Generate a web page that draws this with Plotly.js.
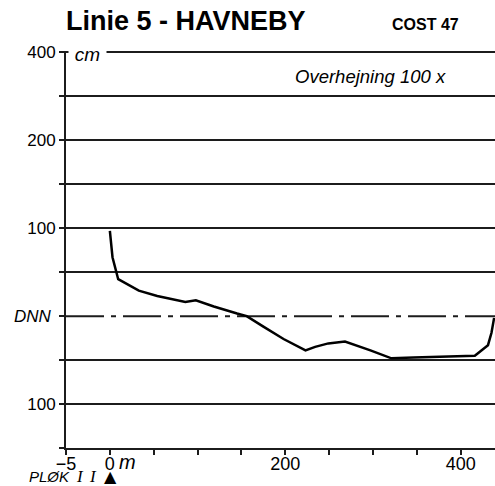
<!DOCTYPE html>
<html>
<head>
<meta charset="utf-8">
<script src="https://cdn.plot.ly/plotly-3.0.1.min.js"></script>
<style>
  html, body { margin: 0; padding: 0; background: #fff; }
  #chart { width: 495px; height: 486px; }
</style>
</head>
<body>
<div id="chart"></div>
<script>
// Beach profile, Linie 5 - Havneby: distance from the peg (m) vs. level relative to DNN (cm)
const distance = [0, 3, 9.5, 33, 54, 86, 98, 118.5, 145, 156, 175, 198, 223, 234, 249, 268, 297, 321, 346, 380, 416, 431, 435, 438];
const level    = [97, 67, 42, 29, 23, 16, 18, 11, 3, 0, -12, -26, -39, -35, -31, -29, -39, -48, -47, -46, -45, -33, -19, -2];

// Axis ticks and their printed labels; solid rules every 50 cm except at DNN
const xTickVals = [-50, 0, 50, 100, 150, 200, 250, 300, 350, 400];
const xTickText = ['\u22125', '0', '', '', '', '200', '', '', '', '400'];
const yTickVals = [-150, -100, -50, 50, 100, 150, 200, 250, 300];
const yTickText = ['', '100', '', '', '100', '', '200', '', '400'];
const dnnLevel  = 0;
const dnnLabel  = 'DNN';

const ink = '#1c1c1c';
const font = 'Liberation Sans, Arial, Helvetica, sans-serif';
const serif = 'Liberation Serif, DejaVu Serif, serif';

const trace = {
  x: distance,
  y: level,
  type: 'scatter',
  mode: 'lines',
  line: { color: '#000', width: 2.5 },
  hoverinfo: 'skip',
  showlegend: false
};

const layout = {
  width: 495,
  height: 486,
  margin: { l: 66, r: 0, t: 51, b: 38 },
  paper_bgcolor: '#fff',
  plot_bgcolor: '#fff',
  showlegend: false,
  font: { family: font, color: '#000' },
  xaxis: {
    range: [-50, 439],
    tickmode: 'array',
    tickvals: xTickVals,
    ticktext: xTickText,
    ticks: 'outside',
    ticklen: 5,
    tickwidth: 2,
    tickcolor: ink,
    ticklabelstandoff: -7,
    showline: true,
    mirror: false,
    linecolor: ink,
    linewidth: 2,
    layer: 'above traces',
    showgrid: false,
    zeroline: false,
    tickfont: { family: font, size: 18, color: '#000' },
    fixedrange: true
  },
  yaxis: {
    range: [-150, 301.6],
    tickmode: 'array',
    tickvals: yTickVals,
    ticktext: yTickText,
    ticks: 'outside',
    ticklen: 5,
    tickwidth: 2,
    tickcolor: ink,
    // the DNN tick comes from the minor ticks (the only 50 cm step without a major tick)
    minor: {
      tick0: 0,
      dtick: 50,
      ticks: 'outside',
      ticklen: 5,
      tickwidth: 2,
      tickcolor: ink,
      showgrid: false
    },
    showline: true,
    mirror: false,
    linecolor: ink,
    linewidth: 2,
    layer: 'above traces',
    showgrid: true,
    gridcolor: ink,
    gridwidth: 2,
    zeroline: false,
    tickfont: { family: font, size: 17, color: '#000' },
    fixedrange: true
  },
  shapes: [
    // dash-dot datum line at DNN
    {
      type: 'line',
      xref: 'paper', x0: 0, x1: 1,
      yref: 'y', y0: dnnLevel, y1: dnnLevel,
      line: { color: ink, width: 2, dash: '38px,7px,5px,7px' },
      layer: 'below'
    }
  ],
  annotations: [
    {
      text: '<i>' + dnnLabel + '</i>',
      xref: 'paper', yref: 'y', x: -0.028, y: dnnLevel,
      xanchor: 'right', yanchor: 'middle', showarrow: false,
      font: { family: font, size: 17, color: '#000' }
    },
    {
      text: '<b>Linie 5 - HAVNEBY</b>',
      xref: 'paper', yref: 'paper', x: -0.004, y: 1.076,
      xanchor: 'left', yanchor: 'middle', showarrow: false,
      font: { family: font, size: 27, color: '#000' }
    },
    {
      text: '<b>COST 47</b>',
      xref: 'paper', yref: 'paper', x: 0.755, y: 1.068,
      xanchor: 'left', yanchor: 'middle', showarrow: false,
      font: { family: font, size: 16, color: '#000' }
    },
    {
      text: '<i>cm</i>',
      xref: 'paper', yref: 'paper', x: 0.005, y: 0.992,
      xanchor: 'left', yanchor: 'middle', showarrow: false,
      width: 37, align: 'center', bgcolor: '#fff', borderpad: 0,
      font: { family: font, size: 19, color: '#000' }
    },
    {
      text: '<i>Overhejning 100 x</i>',
      xref: 'paper', yref: 'paper', x: 0.53, y: 0.937,
      xanchor: 'left', yanchor: 'middle', showarrow: false,
      font: { family: font, size: 18.5, color: '#000' }
    },
    {
      text: '<i>m</i>',
      xref: 'paper', yref: 'paper', x: 0.119, y: -0.036,
      xanchor: 'left', yanchor: 'middle', showarrow: false,
      font: { family: font, size: 20, color: '#000' }
    },
    // peg marker below the axis: "PLØK II" and a triangle
    {
      text: '<i>PLØK</i>',
      xref: 'paper', yref: 'paper', x: -0.091, y: -0.073,
      xanchor: 'left', yanchor: 'middle', showarrow: false,
      font: { family: font, size: 15, color: '#000' }
    },
    {
      text: '<i>I</i>',
      xref: 'paper', yref: 'paper', x: 0.018, y: -0.073,
      xanchor: 'left', yanchor: 'middle', showarrow: false,
      font: { family: serif, size: 17, color: '#000' }
    },
    {
      text: '<i>I</i>',
      xref: 'paper', yref: 'paper', x: 0.049, y: -0.073,
      xanchor: 'left', yanchor: 'middle', showarrow: false,
      font: { family: serif, size: 17, color: '#000' }
    },
    {
      text: '\u25B2',
      xref: 'paper', yref: 'paper', x: 0.083, y: -0.072,
      xanchor: 'left', yanchor: 'middle', showarrow: false,
      font: { family: 'DejaVu Sans, sans-serif', size: 16, color: '#000' }
    }
  ]
};

Plotly.newPlot('chart', [trace], layout, { displayModeBar: false });
</script>
</body>
</html>
